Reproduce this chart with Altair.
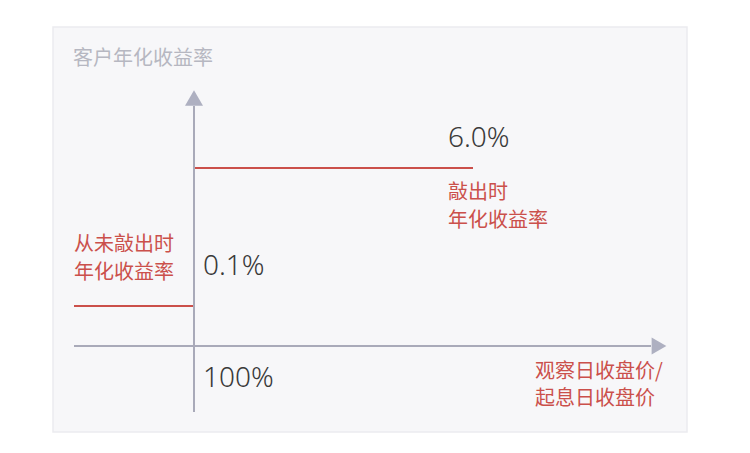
import altair as alt
import pandas as pd

# Schematic coordinates: origin (100%) at axis crossing, units ~ pixels of the diagram
panel = pd.DataFrame({"x": [-141], "x2": [493], "y": [319], "y2": [-86]})

# axes
h_axis = pd.DataFrame({"x": [-120], "x2": [457], "y": [0]})
v_axis = pd.DataFrame({"x": [0], "y": [-66], "y2": [240]})
arrow_up = pd.DataFrame({"x": [0], "y": [248]})
arrow_right = pd.DataFrame({"x": [465], "y": [0]})

# payoff levels (schematic)
level_names = ["从未敲出", "敲出"]
level_x_start = [-120, 0]
level_x_end = [0, 279]
level_y = [40, 178]

# labels
rate_labels = ["0.1%", "6.0%", "100%"]
rate_x = [9, 254, 9]
rate_y = [79, 207, -33]

red_labels = ["从未敲出时", "年化收益率", "敲出时", "年化收益率", "观察日收盘价/", "起息日收盘价"]
red_x = [-120, -120, 254, 254, 341, 341]
red_y = [101, 73, 153, 125, -26, -53]

title_label = ["客户年化收益率"]
title_x = [-121]
title_y = [287]

X = alt.Scale(domain=[-186, 548], nice=False, zero=False)
Y = alt.Scale(domain=[-99, 338], nice=False, zero=False)

AXIS_C = "#a9aab9"
RED = "#cb504b"

bg = alt.Chart(panel).mark_rect(fill="#f7f7f9", stroke="#ebebef", strokeWidth=1.5).encode(
    x=alt.X("x:Q", scale=X, axis=None), x2="x2:Q",
    y=alt.Y("y:Q", scale=Y, axis=None), y2="y2:Q")

hax = alt.Chart(h_axis).mark_rule(color=AXIS_C, strokeWidth=2).encode(
    x=alt.X("x:Q", scale=X, axis=None), x2="x2:Q", y=alt.Y("y:Q", scale=Y, axis=None))
vax = alt.Chart(v_axis).mark_rule(color=AXIS_C, strokeWidth=2).encode(
    x=alt.X("x:Q", scale=X, axis=None), y=alt.Y("y:Q", scale=Y, axis=None), y2="y2:Q")
aup = alt.Chart(arrow_up).mark_point(shape="triangle-up", size=324, filled=True, color="#aeb0c1", opacity=1).encode(
    x=alt.X("x:Q", scale=X, axis=None), y=alt.Y("y:Q", scale=Y, axis=None))
aright = alt.Chart(arrow_right).mark_point(shape="triangle-right", size=290, filled=True, color="#aeb0c1", opacity=1).encode(
    x=alt.X("x:Q", scale=X, axis=None), y=alt.Y("y:Q", scale=Y, axis=None))

levels = pd.DataFrame({"name": level_names, "x": level_x_start, "x2": level_x_end, "y": level_y})
lv = alt.Chart(levels).mark_rule(color=RED, strokeWidth=2).encode(
    x=alt.X("x:Q", scale=X, axis=None), x2="x2:Q", y=alt.Y("y:Q", scale=Y, axis=None))

rates = pd.DataFrame({"t": rate_labels, "x": rate_x, "y": rate_y})
rt = alt.Chart(rates).mark_text(align="left", baseline="middle", font="Noto Sans", fontSize=28,
                                fontWeight=300, color="#3a3a3a").encode(
    x=alt.X("x:Q", scale=X, axis=None), y=alt.Y("y:Q", scale=Y, axis=None), text="t:N")

reds = pd.DataFrame({"t": red_labels, "x": red_x, "y": red_y})
rd = alt.Chart(reds).mark_text(align="left", baseline="middle", font="Noto Sans CJK SC", fontSize=20,
                               color=RED).encode(
    x=alt.X("x:Q", scale=X, axis=None), y=alt.Y("y:Q", scale=Y, axis=None), text="t:N")

tt = pd.DataFrame({"t": title_label, "x": title_x, "y": title_y})
ttl = alt.Chart(tt).mark_text(align="left", baseline="middle", font="Noto Sans CJK SC", fontSize=20,
                              color="#b6b7c1").encode(
    x=alt.X("x:Q", scale=X, axis=None), y=alt.Y("y:Q", scale=Y, axis=None), text="t:N")

chart = alt.layer(bg, lv, hax, vax, aup, aright, rt, rd, ttl).properties(
    width=734, height=437, padding=0, autosize=alt.AutoSizeParams(type="none"),
    background="white"
).configure_view(stroke=None)

chart.save("out.html", embed_options={"renderer": "svg", "actions": False})
